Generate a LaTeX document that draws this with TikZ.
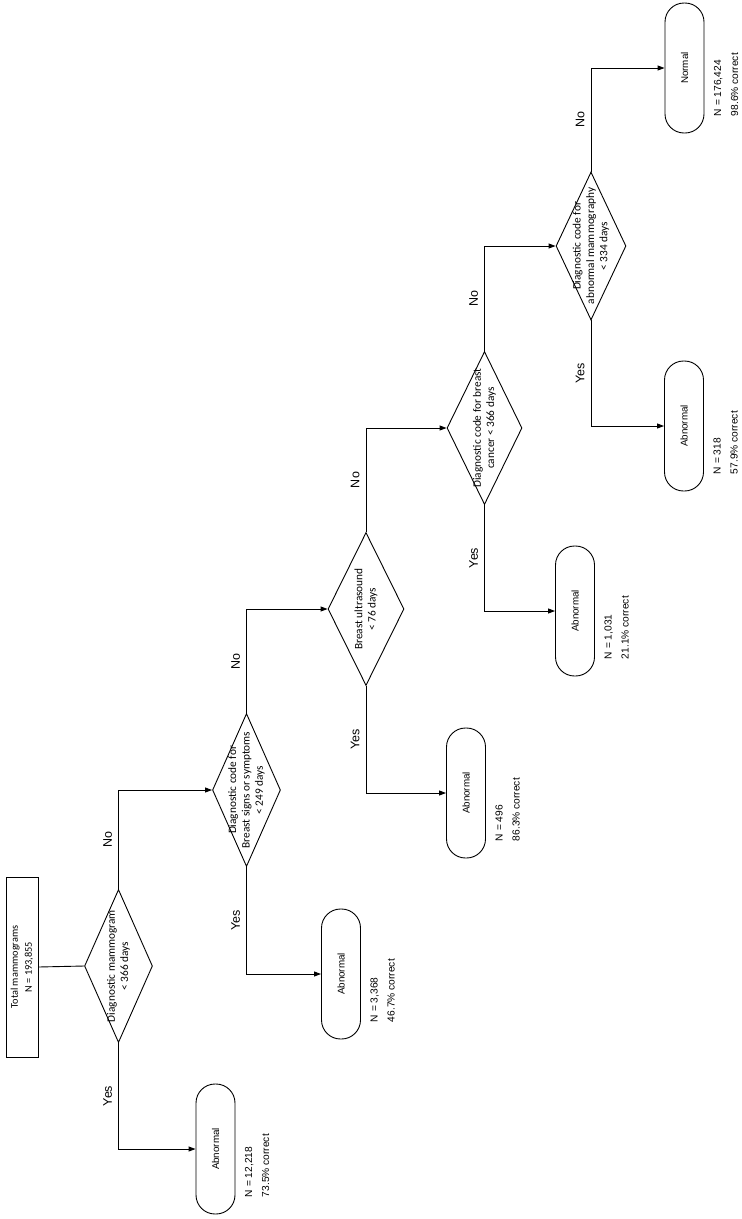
\documentclass[tikz,border=0pt]{standalone}
\usepackage{fontspec}
\setmainfont{Liberation Sans}
\newfontfamily\calfont{Carlito}
\usetikzlibrary{shapes.geometric,arrows.meta}
\tikzset{tbox/.style={
    rectangle,
    draw,
    rotate=90,
    align=center,
    font=\calfont\fontsize{10.3}{14}\selectfont,
    minimum width=180pt,
    minimum height=32pt
  },
  dbox/.style={diamond,draw,rotate=90,inner sep=0pt,minimum width=153pt,minimum height=68pt},
  dtext/.style={rotate=90,align=center,inner sep=0pt,font=\calfont\fontsize{11.3}{13.3}\selectfont},
  rbox/.style={rectangle,draw,rotate=90,rounded corners=19pt,
    minimum width=130pt,minimum height=39pt,font=\fontsize{9.8}{12}\selectfont},
  stat/.style={rotate=90,align=left,anchor=north west,inner sep=0pt,font=\fontsize{10.2}{17}\selectfont},
  yn/.style={rotate=90,anchor=south,inner xsep=0pt,inner ysep=6pt,font=\fontsize{12.5}{15}\selectfont},
}
\begin{document}
\begin{tikzpicture}[x=1pt,y=-1pt,line width=0.9pt,>={Triangle[length=7pt,width=5pt]}]
  \useasboundingbox (0,0) rectangle (742,1219);
  \node [tbox] (total) at (22,967) {Total mammograms\\N = 193,855};
  % decisions
  \node [dbox] (d1) at (118.5,966) {};
  \node [dbox] (d2) at (246.5,790) {};
  \node [dbox,minimum height=76pt] (d3) at (366,609) {};
  \node [dbox,minimum height=75pt] (d4) at (484.5,428) {};
  \node [dbox,minimum height=70pt,minimum width=148pt] (d5) at (591,246) {};
  \node [dtext] (q1) at (d1) {Diagnostic mammogram\\< 366 days};
  \node [dtext] (q2) at (d2) {Diagnostic code for\\Breast signs or symptoms\\< 249 days};
  \node [dtext] (q3) at (d3) {Breast ultrasound\\< 76 days};
  \node [dtext] (q4) at (d4) {Diagnostic code for breast\\cancer < 366 days};
  \node [dtext] (q5) at (d5) {Diagnostic code for\\abnormal mammography\\< 334 days};
  % outcomes
  \node [rbox] (a1) at (215.5,1149) {Abnormal};
  \node [rbox] (a2) at (341,974) {Abnormal};
  \node [rbox] (a3) at (466,793) {Abnormal};
  \node [rbox] (a4) at (575,611) {Abnormal};
  \node [rbox] (a5) at (684,426) {Abnormal};
  \node [rbox] (nrm) at (684.5,68) {Normal};
  \node [stat] (s1) at ([xshift=9pt,yshift=17pt]a1.south west) {N = 12,218\\73.5\% correct};
  \node [stat] (s2) at ([xshift=9pt,yshift=17pt]a2.south west) {N = 3,368\\46.7\% correct};
  \node [stat] (s3) at ([xshift=9pt,yshift=17pt]a3.south west) {N = 496\\86.3\% correct};
  \node [stat] (s4) at ([xshift=9pt,yshift=17pt]a4.south west) {N = 1,031\\21.1\% correct};
  \node [stat] (s5) at ([xshift=9pt,yshift=17pt]a5.south west) {N = 318\\57.9\% correct};
  \node [stat] (s6) at ([xshift=9pt,yshift=17pt]nrm.south west) {N = 176,424\\98.6\% correct};
  % connectors
  \draw (total.south) -- (d1.north);
  \draw[->] (d1.east) |- node[yn,pos=0.25] {No} (d2.north);
  \draw[->] (d2.east) |- node[yn,pos=0.25] {No} (d3.north);
  \draw[->] (d3.east) |- node[yn,pos=0.25] {No} (d4.north);
  \draw[->] (d4.east) |- node[yn,pos=0.25] {No} (d5.north);
  \draw[->] (d5.east) |- node[yn,pos=0.25] {No} (nrm.north);
  \draw[->] (d1.west) |- node[yn,pos=0.25] {Yes} (a1.north);
  \draw[->] (d2.west) |- node[yn,pos=0.25] {Yes} (a2.north);
  \draw[->] (d3.west) |- node[yn,pos=0.25] {Yes} (a3.north);
  \draw[->] (d4.west) |- node[yn,pos=0.25] {Yes} (a4.north);
  \draw[->] (d5.west) |- node[yn,pos=0.25] {Yes} (a5.north);
\end{tikzpicture}
\end{document}
